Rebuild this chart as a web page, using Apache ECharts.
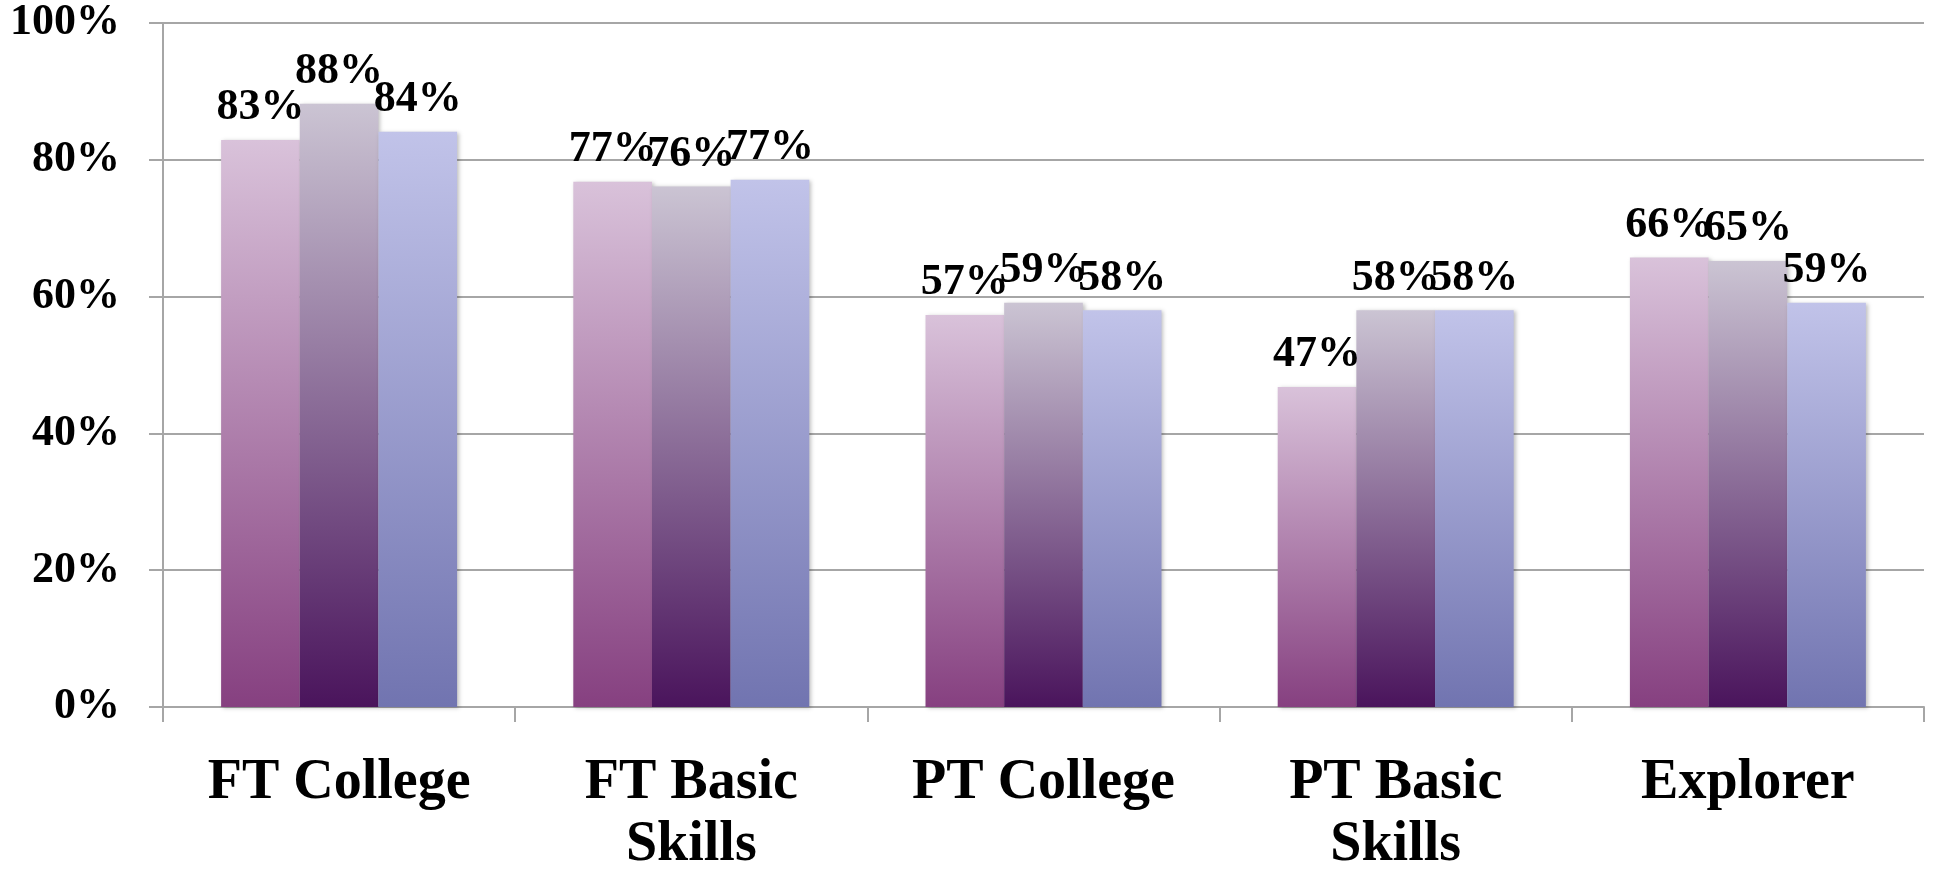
<!DOCTYPE html>
<html>
<head>
<meta charset="utf-8">
<script src="https://cdn.jsdelivr.net/npm/echarts@6/dist/echarts.min.js"></script>
<style>
html,body{margin:0;padding:0;background:#fff;}
#chart{width:1933px;height:877px;}
</style>
</head>
<body>
<div id="chart"></div>
<script>
const categories = ['FT College', 'FT Basic\nSkills', 'PT College', 'PT Basic\nSkills', 'Explorer'];
const series1 = [82.9, 76.8, 57.3, 46.8, 65.7];
const series2 = [88.2, 76.1, 59.1, 58.0, 65.2];
const series3 = [84.1, 77.1, 58.0, 58.0, 59.1];
const yTicks = [0, 20, 40, 60, 80, 100];

const FONT = "'Liberation Serif', 'Times New Roman', serif";
const chart = echarts.init(document.getElementById('chart'));

function grad(top, bottom) {
  return new echarts.graphic.LinearGradient(0, 0, 0, 1, [
    {offset: 0, color: top},
    {offset: 1, color: bottom}
  ]);
}
const palette = [
  ['#d9c2da', '#864080'],
  ['#cbc4d3', '#4a145c'],
  ['#c1c3e9', '#7174b0']
];
function mk(data, idx) {
  return {
    type: 'bar',
    data: data,
    barGap: '0%',
    barCategoryGap: '33%',
    itemStyle: {
      color: grad(palette[idx][0], palette[idx][1]),
      shadowColor: 'rgba(0,0,0,0.25)',
      shadowBlur: 4,
      shadowOffsetX: 2,
      shadowOffsetY: 1
    },
    label: {
      show: true,
      position: 'top',
      distance: 10,
      formatter: p => Math.round(p.value) + '%',
      fontFamily: FONT,
      fontWeight: 'bold',
      fontSize: 44,
      color: '#000'
    }
  };
}

chart.setOption({
  animation: false,
  backgroundColor: '#fff',
  grid: {left: 163, right: 9, top: 23, bottom: 163, containLabel: false},
  xAxis: {
    type: 'category',
    data: categories,
    axisLine: {show: true, lineStyle: {color: '#a6a6a6', width: 2}},
    axisTick: {show: true, length: 15, lineStyle: {color: '#a6a6a6', width: 2}},
    axisLabel: {
      margin: 46,
      fontFamily: FONT,
      fontWeight: 'bold',
      fontSize: 56,
      lineHeight: 62,
      color: '#000',
      interval: 0
    }
  },
  yAxis: {
    type: 'value',
    min: yTicks[0],
    max: yTicks[yTicks.length - 1],
    interval: yTicks[1] - yTicks[0],
    axisLine: {show: true, lineStyle: {color: '#a6a6a6', width: 2}},
    axisTick: {show: true, length: 14, lineStyle: {color: '#a6a6a6', width: 2}},
    splitLine: {show: true, lineStyle: {color: '#a6a6a6', width: 2}},
    axisLabel: {
      margin: 43,
      formatter: '{value}%',
      fontFamily: FONT,
      fontWeight: 'bold',
      fontSize: 44,
      color: '#000'
    }
  },
  series: [mk(series1, 0), mk(series2, 1), mk(series3, 2)]
});
</script>
</body>
</html>
